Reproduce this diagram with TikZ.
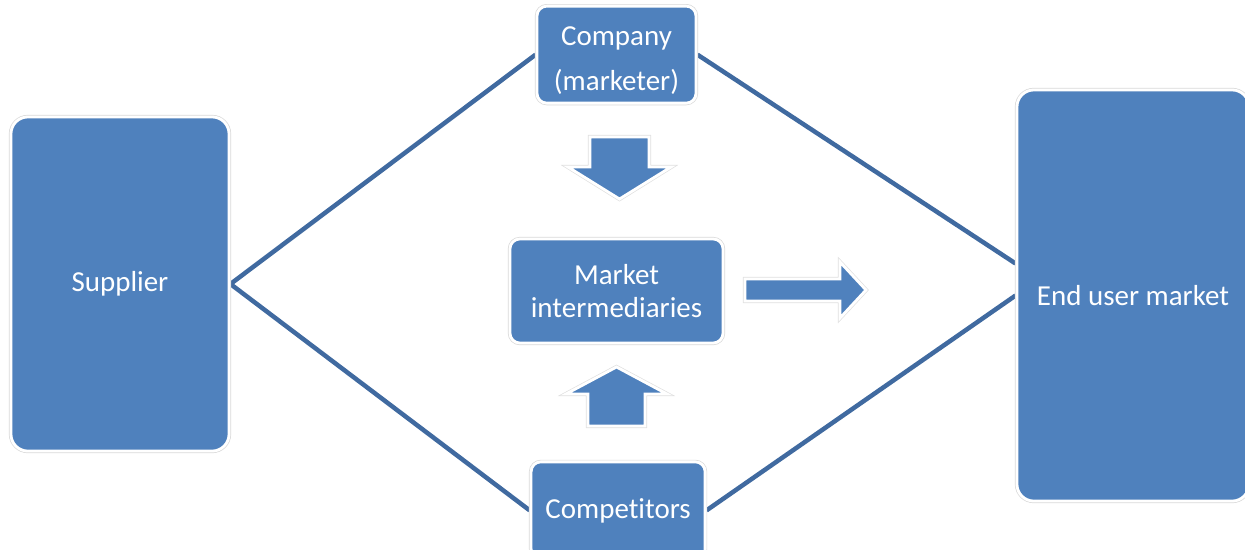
\documentclass[tikz,border=0pt]{standalone}
\usepackage{fontspec}
\setmainfont{Carlito}[Ligatures=NoCommon]
\usetikzlibrary{positioning,backgrounds}

\definecolor{boxblue}{RGB}{79,129,189}
\definecolor{lineblue}{RGB}{64,106,160}

\begin{document}
\begin{tikzpicture}[
    x=0.025cm, y=-0.025cm,
    font=\fontsize{20.6}{23.5}\selectfont,
    block/.style={
        rectangle, fill=boxblue, draw=white, line width=2pt,
        rounded corners=7pt, align=center, text=white, inner sep=2pt,
        preaction={draw=black!15, line width=3pt}
    },
    bigblock/.style={block, rounded corners=12pt},
    link/.style={draw=lineblue, line width=3.2pt},
    blockarrow/.style={
        fill=boxblue, draw=white, line width=2pt,
        preaction={draw=black!12, line width=3pt}
    },
]
  \useasboundingbox (0,0) rectangle (1245,549);

  %--- Boxes -------------------------------------------------
  \node (mi) [block, minimum width=5.325cm, minimum height=2.6cm] at (616.5,291)
        {Market\\intermediaries};
  \node (company) [block, minimum width=3.975cm, minimum height=2.425cm,
        above=3.325cm of mi] {\rule{0pt}{22pt}Company\\[9pt](marketer)};
  \node (rivals) [block, minimum width=4.35cm, minimum height=2.425cm,
        below=2.9cm of mi, xshift=0.04cm] {Competitors};
  \node (supplier) [bigblock, minimum width=5.45cm, minimum height=8.35cm] at (120,284)
        {Supplier};
  \node (enduser) [bigblock, minimum width=5.8cm, minimum height=10.275cm] at (1133,295.5)
        {End user market};

  %--- Connectors --------------------------------------------
  \begin{scope}[on background layer]
    \draw[link] (company.west) -- (supplier.east) -- (rivals.west);
    \draw[link] (company.east) -- ([yshift=0.8cm]enduser.west);
    \draw[link] (rivals.east) -- (enduser.west);
  \end{scope}

  %--- Block arrows ------------------------------------------
  % down into intermediaries
  \path[blockarrow] (590,137) -- (649,137) -- (649,167) -- (671,167)
        -- (619.5,199) -- (568,167) -- (590,167) -- cycle;
  % up from competitors
  \path[blockarrow] (588,426) -- (645,426) -- (645,394) -- (667,394)
        -- (616.5,367) -- (566,394) -- (588,394) -- cycle;
  % on to the end user
  \path[blockarrow] (745,279) -- (840,279) -- (840,262) -- (866,290)
        -- (840,318) -- (840,301) -- (745,301) -- cycle;
\end{tikzpicture}
\end{document}
